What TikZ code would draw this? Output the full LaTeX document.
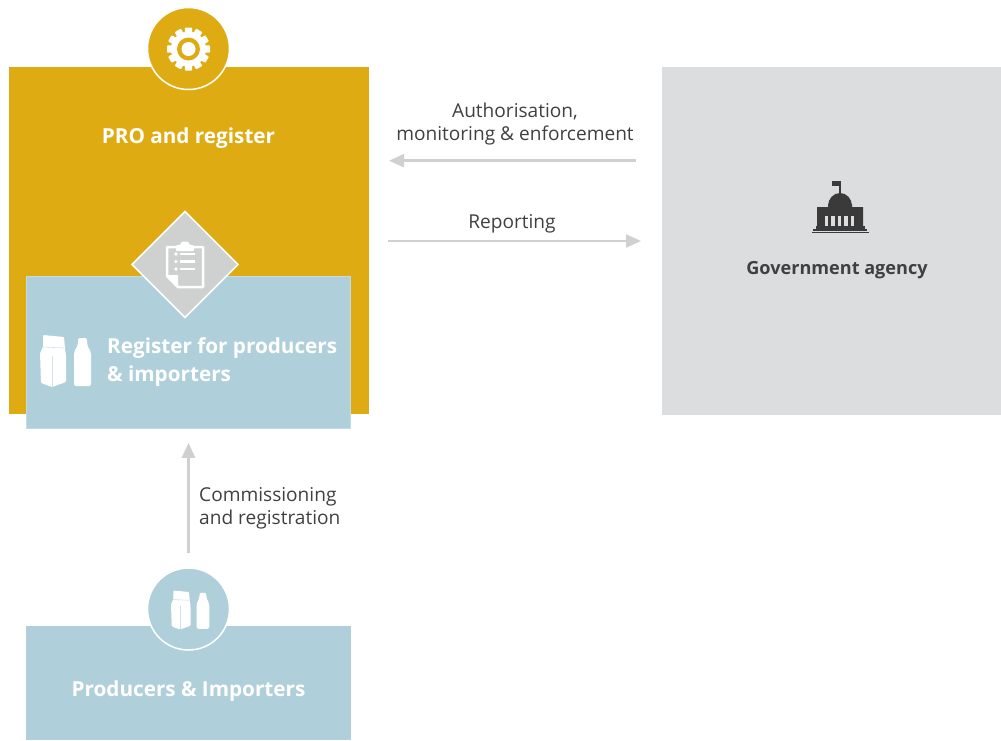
\documentclass[tikz,border=0pt]{standalone}
\usepackage{fontspec}
\setmainfont{Open Sans}
\usetikzlibrary{shapes.geometric,arrows.meta}
\definecolor{proyellow}{HTML}{DFAB12}
\definecolor{regblue}{HTML}{AFD0DA}
\definecolor{govgrey}{HTML}{DCDDDF}
\definecolor{arrowgrey}{HTML}{CFD1D0}
\definecolor{labelgrey}{HTML}{3F4040}
\definecolor{icondark}{HTML}{3A3A3A}
\tikzset{
  panel/.style={rectangle, inner sep=0pt, outer sep=0pt},
  badge/.style={circle, draw=white, line width=1.5pt, inner sep=0pt, outer sep=0pt, minimum size=82pt},
  whitetext/.style={text=white, font=\bfseries\fontsize{20.7}{28}\selectfont, inner sep=0pt},
  darktext/.style={text=labelgrey, font=\fontsize{19.1}{23}\selectfont, inner sep=0pt},
  flowarrow/.style={draw=arrowgrey, line width=2.5pt, -{Triangle[length=15pt,width=13pt]}},
  packs/.pic={
    \fill [white, rounded corners=1pt] (-23,-26) -- (-2,-24) -- (-1,-12) -- (0,-6) -- (0,21) -- (-14,26) -- (-25,22) -- (-26,-8) -- (-23,-14) -- cycle;
    \draw [regblue!60!white, line width=.6pt] (-23,-14) -- (-2,-13);
    \draw [regblue!60!white, line width=.6pt] (-14,-5) -- (-14,25);
    \fill [white, rounded corners=2pt] (12,-23) -- (21,-23) -- (21,-16) -- (25,-9) -- (25,25) -- (8,25) -- (8,-9) -- (12,-16) -- cycle;
  },
  gearicon/.pic={
    \foreach \a in {0,30,...,330}
      \fill [white, rotate=\a, rounded corners=.8pt] (-3.6,-15) rectangle (3.6,-21.5);
    \fill [white] (0,0) circle (17.5);
    \fill [proyellow] (0,0) circle (11.5);
    \fill [white] (0,0) circle (7);
  },
  clipicon/.pic={
    \draw [white, line width=2.5pt, line join=round] (-7,-19) -- (-16,-19) -- (-16,10) -- (-5,21) -- (20,21) -- (20,-19) -- (11,-19);
    \fill [white, rounded corners=1pt] (-7,-21) -- (-3,-21) -- (-1,-24.5) -- (5,-24.5) -- (7,-21) -- (11,-21) -- (11,-15) -- (-7,-15) -- cycle;
    \fill [white] (-16,9) -- (-5,9) -- (-5,21) -- cycle;
    \foreach \y in {-12,-4.5,3} {
      \fill [white] (-7,\y) circle (1.9);
      \fill [white] (-3,\y-1.1) rectangle (12,\y+1.1);
    }
  },
  capitolicon/.pic={
    \draw [icondark, line width=1.2pt] (0,-30) -- (0,-16);
    \fill [icondark] (-8,-30) rectangle (-.5,-25);
    \fill [icondark] (-12,-5) arc (180:360:12 and 13) -- cycle;
    \fill [icondark] (-23,-4) -- (-12,-4) -- (-12,-7) -- (12,-7) -- (12,-4) -- (23,-4) -- (23,15) -- (-23,15) -- cycle;
    \foreach \x in {-13.5,-7,-.5,6,12.5}
      \fill [govgrey] (\x-1.7,5) rectangle (\x+1.7,15);
    \fill [icondark] (-24.5,15) rectangle (24.5,17.5);
    \fill [icondark] (-27,18.3) rectangle (27,19.8);
    \fill [icondark] (-28.5,20.6) rectangle (28.5,22);
  }
}
\begin{document}
\begin{tikzpicture}[x=1pt, y=-1pt]
  \useasboundingbox (0,0) rectangle (1001,740);

  \node [panel, fill=proyellow, minimum width=360pt, minimum height=347pt] (pro) at (189,240.5) {};
  \node [panel, fill=govgrey, minimum width=339pt, minimum height=348pt] (gov) at (831.5,241) {};
  \node [panel, fill=regblue, draw=regblue!75!white, line width=.7pt, minimum width=324.5pt, minimum height=152.5pt] (regbox) at (188.5,352.5) {};
  \node [panel, fill=regblue, minimum width=325pt, minimum height=114pt] (prodbox) at (188.5,683) {};

  \node [badge, fill=proyellow] (gearbadge) at (188.5,48.5) {};
  \node [badge, fill=regblue] (prodbadge) at (188.5,609) {};
  \node [diamond, fill=arrowgrey, draw=white, line width=1.5pt, inner sep=0pt, outer sep=0pt, minimum width=106pt, minimum height=106pt] (regdiamond) at (185,264.5) {};

  \pic at (188.5,49) {gearicon};
  \pic at (183,266) {clipicon};
  \pic at (66,361) {packs};
  \pic [scale=.75] at (190.5,610) {packs};
  \pic at (840,211) {capitolicon};

  \node [whitetext] (prolabel) at (188.5,138) {PRO and register};
  \node [whitetext, anchor=west, align=left] (reglabel) at (107,362) {Register for producers\\\& importers};
  \node [whitetext] (prodlabel) at (188.5,691) {Producers \& Importers};
  \node [whitetext, text=labelgrey, font=\bfseries\fontsize{18.1}{22}\selectfont] (govlabel) at (837,270.5) {Government agency};

  \node [darktext, align=center] (authlabel) at (515,124) {Authorisation,\\monitoring \& enforcement};
  \node [darktext] (replabel) at (512,224) {Reporting};
  \node [darktext, anchor=west, align=left] (commlabel) at (199,508) {Commissioning\\and registration};

  \draw [flowarrow, shorten <=26pt, shorten >=20pt] ([yshift=80.3pt]gov.west) -- ([yshift=80.3pt]gov.west -| pro.east);
  \draw [flowarrow, shorten <=19pt, shorten >=21pt] (gov.west -| pro.east) -- (gov.west);
  \draw [flowarrow, shorten <=15pt, shorten >=14pt] (prodbadge.north) -- (regbox.south);
\end{tikzpicture}
\end{document}
